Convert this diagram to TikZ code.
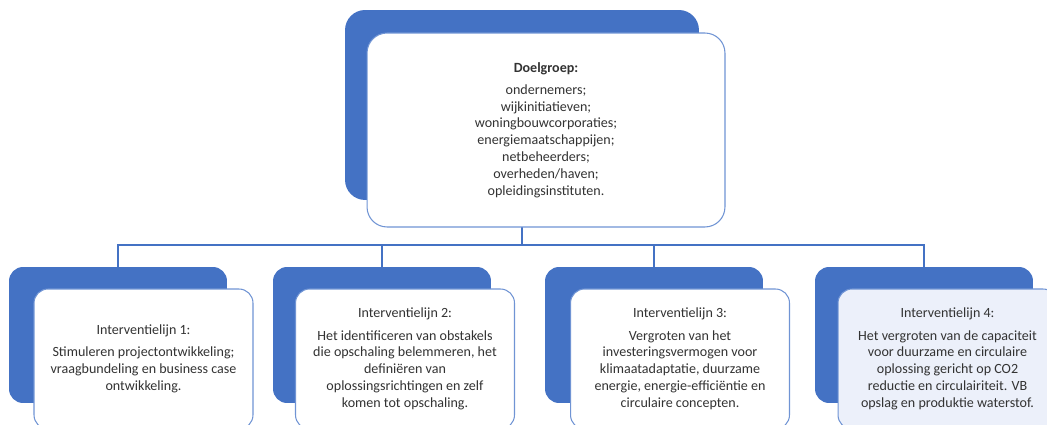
\documentclass[tikz,border=0pt]{standalone}
\usepackage{fontspec}
\setmainfont{Carlito}
\definecolor{ofblue}{HTML}{4472C4}
\definecolor{ofline}{HTML}{7094D4}
\definecolor{oftext}{HTML}{333333}
\definecolor{oftint}{HTML}{ECF0FA}
\tikzset{
  backbox/.style={draw=none, fill=ofblue, rounded corners=0.28cm, minimum width=4.36cm, minimum height=2.72cm},
  frontbox/.style={draw=ofline, line width=0.6pt, fill=white, rounded corners=0.28cm, minimum width=4.38cm, minimum height=2.8cm, align=center, text=oftext, font=\fontsize{8}{9.6}\selectfont},
  wire/.style={draw=ofblue, line width=0.6pt}
}
\begin{document}
\begin{tikzpicture}[x=0.02cm, y=-0.02cm]
            \useasboundingbox (0,0) rectangle (1047,425);
            \clip (0,0) rectangle (1047,425);
            \node [backbox, rounded corners=0.4cm, minimum width=7.08cm, minimum height=3.8cm] (topback) at (522,105) {};
            \coordinate (bus) at (522,245);
            \node [backbox] (back1) at (118,335) {};
            \node [backbox] (back2) at (382,335) {};
            \node [backbox] (back3) at (654,335) {};
            \node [backbox] (back4) at (924,335) {};
            \draw [wire] (topback.south) -- (bus);
            \draw [wire] (bus) -| (back1.north);
            \draw [wire] (bus) -| (back2.north);
            \draw [wire] (bus) -| (back3.north);
            \draw [wire] (bus) -| (back4.north);
            \node [frontbox, rounded corners=0.4cm, minimum width=7.16cm, minimum height=3.88cm] (doel) at (546,130) {\textbf{Doelgroep:}\\[3pt] ondernemers;\\ wijkinitiatieven;\\ woningbouwcorporaties;\\ energiemaatschappijen;\\ netbeheerders;\\ overheden/haven;\\ opleidingsinstituten.};
            \node [frontbox] (lijn1) at (143.5,359) {Interventielijn 1:\\[3pt] Stimuleren projectontwikkeling;\\ vraagbundeling en business case\\ ontwikkeling.};
            \node [frontbox] (lijn2) at (405,359) {Interventielijn 2:\\[3pt] Het identificeren van obstakels\\ die opschaling belemmeren, het\\ definiëren van\\ oplossingsrichtingen en zelf\\ komen tot opschaling.};
            \node [frontbox] (lijn3) at (680,359) {Interventielijn 3:\\[3pt] Vergroten van het\\ investeringsvermogen voor\\ klimaatadaptatie, duurzame\\ energie, energie-efficiëntie en\\ circulaire concepten.};
            \node [frontbox, fill=oftint] (lijn4) at (947.5,359) {Interventielijn 4:\\[3pt] Het vergroten van de capaciteit\\ voor duurzame en circulaire\\ oplossing gericht op CO2\\ reductie en circulairiteit. VB\\ opslag en produktie waterstof.};
        \end{tikzpicture}
\end{document}
